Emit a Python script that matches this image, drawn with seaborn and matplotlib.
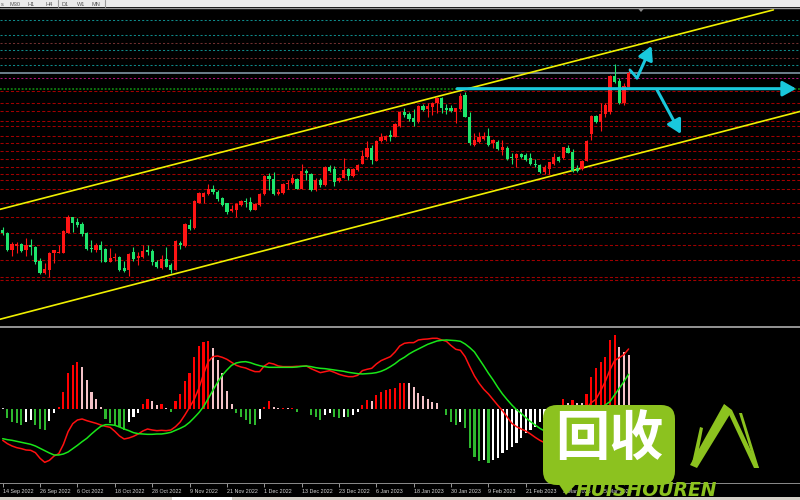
import matplotlib
matplotlib.use("Agg")
import matplotlib.pyplot as plt
from matplotlib.patches import FancyBboxPatch, Polygon, Rectangle
import numpy as np
import pandas as pd
import seaborn as sns

# XAUUSD daily candles (bar index = trading day)
date_labels = ["14 Sep 2022", "26 Sep 2022", "6 Oct 2022", "18 Oct 2022", "28 Oct 2022",
               "9 Nov 2022", "21 Nov 2022", "1 Dec 2022", "13 Dec 2022", "23 Dec 2022",
               "6 Jan 2023", "18 Jan 2023", "30 Jan 2023", "9 Feb 2023", "21 Feb 2023",
               "3 Mar 2023", "15 Mar 2023"]
label_bars = list(range(0, 129, 8))

opens = [1693, 1688, 1655, 1663, 1666, 1655, 1664, 1661, 1634, 1610,
         1617, 1649, 1650, 1650, 1688, 1718, 1709, 1705, 1687, 1659,
         1655, 1664, 1656, 1632, 1639, 1641, 1620, 1617, 1652, 1639,
         1641, 1655, 1654, 1632, 1620, 1638, 1626, 1617, 1669, 1663,
         1703, 1697, 1746, 1757, 1762, 1772, 1767, 1754, 1745, 1730,
         1732, 1741, 1749, 1747, 1732, 1741, 1762, 1798, 1791, 1762,
         1764, 1781, 1783, 1791, 1773, 1807, 1801, 1770, 1789, 1780,
         1814, 1810, 1788, 1794, 1810, 1798, 1809, 1821, 1833, 1851,
         1826, 1864, 1866, 1876, 1872, 1894, 1919, 1916, 1908, 1901,
         1932, 1925, 1930, 1937, 1947, 1927, 1927, 1920, 1925, 1953,
         1911, 1857, 1863, 1869, 1874, 1860, 1863, 1847, 1851, 1833,
         1831, 1839, 1837, 1831, 1821, 1818, 1805, 1811, 1820, 1834,
         1831, 1850, 1844, 1812, 1811, 1826, 1878, 1913, 1901, 1917,
         1919, 1989, 1980, 1938, 1968]
highs = [1699, 1690, 1671, 1671, 1669, 1678, 1676, 1663, 1639, 1630,
         1652, 1655, 1665, 1693, 1722, 1719, 1717, 1709, 1690, 1674,
         1669, 1673, 1658, 1658, 1650, 1644, 1634, 1649, 1660, 1652,
         1665, 1665, 1657, 1635, 1645, 1660, 1630, 1674, 1673, 1706,
         1714, 1751, 1767, 1767, 1781, 1780, 1770, 1757, 1746, 1741,
         1746, 1751, 1754, 1756, 1745, 1764, 1799, 1802, 1805, 1773,
         1783, 1789, 1801, 1793, 1820, 1810, 1803, 1793, 1793, 1816,
         1818, 1816, 1796, 1831, 1812, 1813, 1821, 1847, 1864, 1857,
         1866, 1879, 1876, 1885, 1898, 1921, 1927, 1919, 1925, 1933,
         1935, 1937, 1940, 1949, 1949, 1935, 1933, 1928, 1956, 1959,
         1919, 1879, 1882, 1882, 1889, 1869, 1866, 1867, 1855, 1841,
         1841, 1842, 1841, 1841, 1829, 1821, 1818, 1824, 1841, 1835,
         1853, 1857, 1848, 1818, 1828, 1866, 1914, 1915, 1937, 1938,
         1991, 2012, 1985, 1975, 2004]
lows = [1684, 1654, 1644, 1650, 1651, 1644, 1645, 1628, 1609, 1609,
        1603, 1630, 1649, 1649, 1687, 1690, 1699, 1682, 1655, 1652,
        1652, 1632, 1631, 1632, 1634, 1615, 1613, 1605, 1634, 1626,
        1639, 1645, 1626, 1620, 1618, 1622, 1610, 1616, 1656, 1661,
        1693, 1695, 1745, 1745, 1761, 1762, 1750, 1739, 1724, 1728,
        1719, 1739, 1738, 1730, 1731, 1740, 1761, 1770, 1761, 1761,
        1763, 1773, 1781, 1772, 1772, 1789, 1769, 1768, 1776, 1778,
        1805, 1778, 1786, 1793, 1789, 1796, 1807, 1820, 1831, 1820,
        1826, 1863, 1865, 1865, 1871, 1892, 1910, 1903, 1893, 1899,
        1922, 1910, 1914, 1918, 1918, 1916, 1920, 1898, 1924, 1910,
        1857, 1855, 1861, 1866, 1855, 1850, 1847, 1837, 1828, 1821,
        1815, 1831, 1826, 1818, 1815, 1803, 1801, 1801, 1818, 1824,
        1829, 1841, 1805, 1805, 1809, 1825, 1867, 1899, 1883, 1911,
        1917, 1975, 1935, 1933, 1967]
closes = [1687, 1655, 1666, 1666, 1654, 1664, 1660, 1632, 1610, 1618,
          1650, 1655, 1652, 1692, 1719, 1707, 1703, 1685, 1656, 1656,
          1665, 1655, 1632, 1639, 1641, 1617, 1615, 1647, 1637, 1644,
          1654, 1652, 1632, 1622, 1638, 1623, 1617, 1672, 1665, 1704,
          1695, 1749, 1765, 1765, 1773, 1767, 1753, 1741, 1728, 1733,
          1743, 1749, 1747, 1732, 1743, 1762, 1798, 1791, 1762, 1766,
          1782, 1784, 1793, 1773, 1807, 1802, 1770, 1789, 1780, 1814,
          1807, 1786, 1794, 1809, 1798, 1811, 1818, 1835, 1851, 1828,
          1864, 1871, 1874, 1872, 1896, 1919, 1914, 1906, 1901, 1931,
          1924, 1931, 1938, 1946, 1927, 1924, 1922, 1927, 1951, 1911,
          1861, 1866, 1871, 1874, 1857, 1866, 1848, 1853, 1829, 1831,
          1839, 1833, 1828, 1820, 1818, 1805, 1814, 1823, 1833, 1826,
          1852, 1842, 1807, 1807, 1826, 1865, 1913, 1901, 1917, 1933,
          1989, 1978, 1938, 1970, 1995]

# MACD panel (histogram + two lines), same axis units
macd_hist = [0.3, -2.7, -3.7, -4.2, -4.7, -3.7, -3.2, -4.7, -6.0, -6.2,
             -3.5, -1.2, 0.6, 5.3, 10.8, 13.3, 14.3, 12.6, 8.8, 5.3,
             3.0, 0.6, -3.0, -4.2, -4.7, -5.2, -6.2, -3.7, -2.2, -1.0,
             1.6, 3.0, 2.5, 1.3, 1.6, 0.3, -0.7, 2.6, 4.6, 8.6,
             11.0, 15.6, 19.0, 20.3, 20.6, 18.3, 14.8, 10.8, 5.6, 1.6,
             -1.2, -2.2, -3.2, -4.4, -4.6, -3.0, 0.6, 2.5, 0.8, 0.4,
             0.5, 0.4, 0.5, -0.8, 0.1, 0.2, -1.7, -2.4, -3.2, -1.7,
             -1.2, -2.2, -2.7, -2.2, -2.4, -1.7, -0.8, 1.3, 2.8, 2.6,
             4.3, 5.3, 5.8, 6.0, 6.3, 7.8, 8.0, 7.8, 6.8, 5.0,
             4.0, 3.0, 2.3, 1.8, 0.1, -1.7, -3.7, -4.7, -3.7, -5.7,
             -11.7, -14.2, -15.4, -15.3, -16.0, -15.2, -14.7, -13.2, -12.2, -11.2,
             -10.0, -8.7, -7.2, -6.2, -5.2, -3.7, -2.7, -1.8, -0.8, 0.5,
             3.0, 1.8, 2.8, 2.0, 1.8, 4.6, 9.8, 12.3, 14.3, 15.8,
             20.8, 22.3, 18.8, 17.3, 16.3]
macd_line = [-9.3, -10.3, -11.0, -11.5, -11.8, -12.2, -12.3, -13.0, -14.7, -15.9,
             -15.3, -14.0, -13.3, -10.5, -6.7, -4.3, -3.2, -2.9, -3.4, -3.8,
             -4.2, -4.7, -5.1, -5.4, -6.6, -8.0, -8.9, -8.6, -8.1, -7.4,
             -6.5, -5.9, -6.2, -6.4, -6.3, -6.4, -6.2, -5.2, -3.8, -1.7,
             0.6, 3.0, 6.3, 10.6, 14.3, 15.8, 16.0, 15.6, 15.0, 14.1,
             13.2, 12.7, 12.4, 11.8, 11.3, 11.3, 13.0, 13.9, 13.6, 13.0,
             12.8, 12.8, 12.8, 12.9, 12.9, 13.0, 12.2, 11.6, 11.0, 11.3,
             11.6, 11.1, 10.5, 10.1, 9.8, 9.8, 10.2, 11.6, 12.0, 12.3,
             13.6, 14.6, 15.2, 15.8, 17.2, 19.0, 19.8, 20.0, 20.0, 20.8,
             21.0, 21.1, 21.3, 21.3, 20.8, 20.4, 19.1, 18.0, 17.7, 15.8,
             12.8, 10.0, 7.8, 6.0, 4.6, 2.9, 1.2, -0.4, -2.3, -4.2,
             -5.2, -5.9, -6.5, -7.4, -8.4, -9.3, -10.0, -11.0, -11.7, -11.7,
             -10.7, -8.7, -6.2, -4.2, -2.2, 0.3, 2.0, 3.0, 5.5, 8.3,
             11.8, 14.6, 15.5, 16.4, 18.1]
signal_line = [-8.8, -9.1, -9.3, -9.6, -9.9, -10.2, -10.5, -11.0, -11.7, -12.4,
               -13.1, -13.7, -13.7, -13.4, -12.8, -11.8, -10.8, -9.7, -8.7, -7.4,
               -6.2, -5.1, -4.6, -4.6, -4.8, -5.3, -5.9, -6.4, -7.0, -7.3,
               -7.4, -7.5, -7.5, -7.4, -7.4, -7.2, -6.9, -6.3, -5.7, -5.0,
               -3.9, -2.5, -1.0, 0.8, 3.2, 5.7, 8.1, 10.2, 11.8, 13.2,
               13.9, 14.2, 14.3, 14.0, 13.5, 13.1, 12.8, 12.6, 12.6, 12.6,
               12.6, 12.6, 12.6, 12.7, 12.9, 13.0, 12.8, 12.5, 12.3, 12.2,
               12.0, 11.8, 11.6, 11.4, 11.1, 10.9, 10.7, 10.6, 10.7, 10.8,
               11.0, 11.4, 12.0, 12.8, 13.7, 14.8, 15.6, 16.6, 17.4, 18.1,
               18.8, 19.5, 20.0, 20.5, 20.7, 20.8, 20.7, 20.6, 20.4, 19.6,
               18.5, 17.2, 15.1, 13.0, 10.8, 8.8, 6.6, 4.6, 2.9, 1.3,
               -0.1, -1.2, -2.5, -3.7, -4.7, -5.7, -6.5, -7.2, -7.8, -8.2,
               -8.4, -8.2, -7.7, -7.0, -6.0, -4.7, -3.0, -1.5, 0.0, 1.3,
               2.3, 4.3, 6.3, 8.3, 10.5]

# horizontal levels drawn on the chart
red_levels = [1961, 1938, 1921, 1903, 1893, 1874.5, 1859.5, 1846, 1830, 1815,
              1801, 1789.5, 1771.5, 1745, 1719, 1687, 1664, 1636, 1604, 1597]
teal_levels = [2096, 2068, 2039, 2010]
brown_levels = [2052, 2024]
gray_level = 1994
magenta_level = 1985
green_level = 1964.5

# trend channel (bar, price) end points and hand-drawn arrows
channel_upper = [(-0.6, 1733), (165, 2116)]
channel_lower = [(-0.6, 1522), (170.7, 1921)]
flat_arrow = [(97.3, 1964.7), (169.9, 1964.7)]
up_arrow = [(134.3, 2000.6), (135.8, 1985.2), (138.9, 2047)]
down_arrow = [(140.1, 1962.2), (145.2, 1877.7)]

sns.set_style("dark", {"axes.facecolor": "black", "figure.facecolor": "black",
                       "axes.grid": False})
plt.rcParams["font.family"] = ["DejaVu Sans", "Noto Sans CJK SC"]

RED = "#ff1414"
GREEN = "#1ee46c"
CYAN = "#19c8dc"
LOGO = "#8cc21f"

df = pd.DataFrame({"open": opens, "high": highs, "low": lows, "close": closes})
df["bar"] = np.arange(len(df))
bull = df["close"] >= df["open"]
candle_colors = np.where(bull, RED, GREEN)

fig = plt.figure(figsize=(8, 5), dpi=100)
fig.patch.set_facecolor("black")
ax = fig.add_axes([0, 0.35, 1, 0.634])
ax2 = fig.add_axes([0, 0.034, 1, 0.3114])
for a in (ax, ax2):
    a.set_facecolor("black")
    a.set_xlim(-0.58, 170.7)
    a.set_yticks([])
    for s in a.spines.values():
        s.set_visible(False)
ax.set_xticks([])
ax.set_ylim(1511, 2119.6)
ax2.set_ylim(-22.1, 24.6)

# level lines
for lv in red_levels:
    ax.axhline(lv, color="#a00000", lw=0.75, dashes=(3, 2), zorder=1)
for lv in teal_levels:
    ax.axhline(lv, color="#0e8a8a", lw=0.75, dashes=(2, 2), zorder=1)
for lv in brown_levels:
    ax.axhline(lv, color="#6e3030", lw=0.75, dashes=(2, 2), zorder=1)
ax.axhline(gray_level, color="#8aa3b3", lw=1.1, zorder=1)
ax.axhline(magenta_level, color="#b0157a", lw=0.75, dashes=(2, 2), zorder=1)
ax.axhline(green_level, color="#0f800f", lw=1.3, dashes=(1, 1), zorder=1)

# channel
for pts in (channel_upper, channel_lower):
    xs, ys = zip(*pts)
    ax.plot(xs, ys, color="#f0f000", lw=1.2, zorder=2)

# candles
ax.vlines(df["bar"], df["low"], df["high"], colors=candle_colors, lw=0.8, zorder=3)
body_low = df[["open", "close"]].min(axis=1)
body_h = (df["close"] - df["open"]).abs().clip(lower=1.6)
ax.bar(df["bar"], body_h, bottom=body_low, width=0.7, color=candle_colors,
       linewidth=0, zorder=4)

# arrows
arrow_kw = dict(arrowstyle="-|>,head_length=0.45,head_width=0.25", mutation_scale=18,
                color=CYAN, lw=2.2, shrinkA=0, shrinkB=0)
ax.annotate("", xy=flat_arrow[1], xytext=flat_arrow[0], arrowprops=arrow_kw, zorder=6)
ax.plot([up_arrow[0][0], up_arrow[1][0]], [up_arrow[0][1], up_arrow[1][1]],
        color=CYAN, lw=2.0, solid_capstyle="round", zorder=6)
ax.annotate("", xy=up_arrow[2], xytext=up_arrow[1], arrowprops=arrow_kw, zorder=6)
ax.annotate("", xy=down_arrow[1], xytext=down_arrow[0], arrowprops=arrow_kw, zorder=6)

# MACD histogram colours: rising/falling above and below zero
hist_colors = []
for i, h in enumerate(macd_hist):
    prev = macd_hist[i - 1] if i > 0 else h
    if i == 0:
        hist_colors.append("#d0d0d0")
    elif h >= 0:
        hist_colors.append("#ff0000" if h >= prev else "#f4c2c8")
    else:
        hist_colors.append("#2eb82e" if h <= prev else "#ffffff")
bars = np.arange(len(macd_hist))
ax2.bar(bars, macd_hist, width=0.45, color=hist_colors, linewidth=0)
sns.lineplot(x=bars, y=macd_line, ax=ax2, color="#ff1010", lw=1.1)
sns.lineplot(x=bars, y=signal_line, ax=ax2, color="#19e619", lw=1.1)

# date axis
ax2.spines["bottom"].set_visible(True)
ax2.spines["bottom"].set_color("#8c8c8c")
ax2.spines["bottom"].set_linewidth(0.7)
ax2.set_xticks(label_bars)
ax2.set_xticklabels(date_labels, ha="left",
                    fontdict={"family": "Liberation Sans", "size": 3.9})
ax2.tick_params(axis="x", direction="out", length=3, width=0.6, color="#b0b0b0",
                labelcolor="#d8d8d8", pad=1.5, bottom=True)
ax2.set_xlabel("")
ax2.set_ylabel("")

# window chrome and watermark in pixel space
ov = fig.add_axes([0, 0, 1, 1])
ov.set_xlim(0, 800)
ov.set_ylim(500, 0)
ov.axis("off")
ov.patch.set_alpha(0)
ov.set_zorder(10)
ov.add_patch(Rectangle((0, 0), 800, 7, color="#ebebeb", lw=0))
ov.plot([0, 800], [7.5, 7.5], color="#9a9a9a", lw=1.0)
for lab, xp in [("s", 1), ("M30", 10), ("H1", 28), ("H4", 45), ("D1", 62), ("W1", 77), ("MN", 92)]:
    ov.text(xp, 6, lab, fontsize=4, color="#555555", va="baseline", ha="left",
            family="Liberation Sans")
for xp in (58, 105):
    ov.plot([xp, xp], [0, 7], color="#9a9a9a", lw=0.8)
ov.add_patch(Polygon([(638, 8.5), (644, 8.5), (641, 12)], color="#8a8a8a", lw=0))
ov.plot([0, 800], [326.5, 326.5], color="#a0a0a0", lw=1.3)
ov.add_patch(Rectangle((0, 497), 800, 3, color="#d4d0c8", lw=0))
ov.add_patch(Rectangle((172, 497), 60, 3, color="#ffffff", lw=0))

ov.add_patch(FancyBboxPatch((550, 412), 118, 66, boxstyle="round,pad=7,rounding_size=14",
                            color=LOGO, lw=0))
ov.add_patch(Polygon([(548, 468), (578, 482), (566, 495)], color=LOGO, lw=0))
ov.text(609, 440, "回收", fontsize=39, color="white", fontweight="bold", ha="center",
        va="center", family=["Noto Sans CJK SC"])
ov.text(576, 496, "HUISHOUREN", fontsize=13.5, color=LOGO, fontweight="bold",
        fontstyle="italic", ha="left", va="baseline", family="DejaVu Sans")
for poly in ([(690, 465), (697, 468), (732, 411), (724, 404)],
             [(700, 427), (703, 428), (696, 465), (692, 463)],
             [(724, 404), (732, 410), (759, 468), (754, 468)],
             [(739, 413), (742, 413), (759, 468), (756, 468)]):
    ov.add_patch(Polygon(poly, color=LOGO, lw=0))

fig.savefig("out.png", dpi=100, facecolor="black")
